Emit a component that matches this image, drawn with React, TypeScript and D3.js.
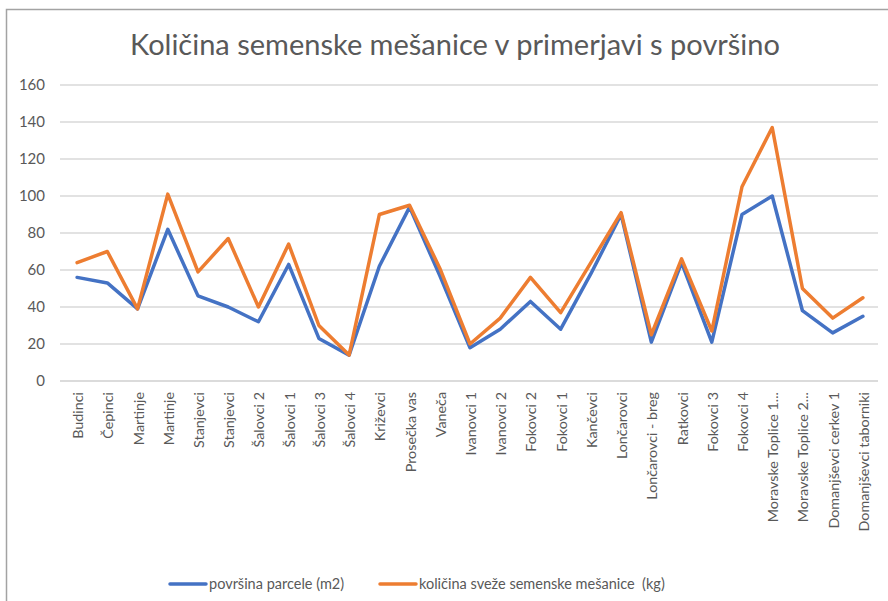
import React, { useEffect, useRef } from "react";
import * as d3 from "d3";

const categories = [
  "Budinci", "Čepinci", "Martinje", "Martinje", "Stanjevci", "Stanjevci",
  "Šalovci 2", "Šalovci 1", "Šalovci 3", "Šalovci 4", "Križevci", "Prosečka vas",
  "Vaneča", "Ivanovci 1", "Ivanovci 2", "Fokovci 2", "Fokovci 1", "Kančevci",
  "Lončarovci", "Lončarovci - breg", "Ratkovci", "Fokovci 3", "Fokovci 4",
  "Moravske Toplice 1...", "Moravske Toplice 2...", "Domanjševci cerkev 1",
  "Domanjševci taborniki",
];

// površina parcele (m2)
const povrsina = [
  56, 53, 39, 82, 46, 40, 32, 63, 23, 14, 62, 94, 57, 18, 28, 43, 28, 58,
  90, 21, 64, 21, 90, 100, 38, 26, 35,
];

// količina sveže semenske mešanice (kg)
const kolicina = [
  64, 70, 39, 101, 59, 77, 40, 74, 30, 14, 90, 95, 61, 20, 34, 56, 37, 64,
  91, 25, 66, 27, 105, 137, 50, 34, 45,
];

const yTicks = [0, 20, 40, 60, 80, 100, 120, 140, 160];

const seriesNames = ["površina parcele (m2)", "količina sveže semenske mešanice  (kg)"];
const colors = ["#4472C4", "#ED7D31"];

const W = 888;
const H = 601;

function Chart() {
  const ref = useRef<SVGSVGElement | null>(null);

  useEffect(() => {
    const svg = d3.select(ref.current);
    svg.selectAll("*").remove();

    const left = 60, right = 878, top = 85, bottom = 381;
    const font = "Lato, 'Open Sans', sans-serif";
    const textColor = "#595959";

    // chart frame
    svg.append("rect")
      .attr("x", 6.5).attr("y", 9.5)
      .attr("width", W + 20).attr("height", H + 20)
      .attr("fill", "#fff")
      .attr("stroke", "#a3a3a3")
      .attr("stroke-width", 1.5);

    svg.append("text")
      .attr("x", 455).attr("y", 55)
      .attr("text-anchor", "middle")
      .style("font-family", font)
      .style("font-size", "29px")
      .attr("fill", textColor)
      .text("Količina semenske mešanice v primerjavi s površino");

    const x = d3.scaleBand<string>()
      .domain(categories.map((_, i) => String(i)))
      .range([left + 2, right]);

    const y = d3.scaleLinear().domain([0, 160]).range([bottom, top]);

    // gridlines
    svg.append("g")
      .selectAll("line")
      .data(yTicks)
      .enter()
      .append("line")
      .attr("x1", left).attr("x2", right)
      .attr("y1", d => y(d)).attr("y2", d => y(d))
      .attr("stroke", d => d === 0 ? "#cfcfcf" : "#d9d9d9")
      .attr("stroke-width", 1.3);

    // y labels
    svg.append("g")
      .selectAll("text")
      .data(yTicks)
      .enter()
      .append("text")
      .attr("x", 45)
      .attr("y", d => y(d))
      .attr("dy", "0.35em")
      .attr("text-anchor", "end")
      .style("font-family", font)
      .style("font-size", "15px")
      .attr("fill", textColor)
      .text(d => d);

    // x labels, rotated
    svg.append("g")
      .selectAll("text")
      .data(categories)
      .enter()
      .append("text")
      .attr("transform", (d, i) => {
        const cx = (x(String(i)) as number) + x.bandwidth() / 2;
        return "translate(" + (cx + 6) + "," + 392 + ") rotate(-90)";
      })
      .attr("text-anchor", "end")
      .style("font-family", font)
      .style("font-size", "14.3px")
      .attr("fill", textColor)
      .text(d => d);

    const line = d3.line<number>()
      .x((d, i) => (x(String(i)) as number) + x.bandwidth() / 2)
      .y(d => y(d));

    [povrsina, kolicina].forEach((s, k) => {
      svg.append("path")
        .datum(s)
        .attr("d", line)
        .attr("fill", "none")
        .attr("stroke", colors[k])
        .attr("stroke-width", 3.5)
        .attr("stroke-linejoin", "round")
        .attr("stroke-linecap", "round");
    });

    // legend
    const legendX = [170, 380];
    seriesNames.forEach((name, k) => {
      const g = svg.append("g").attr("transform", "translate(" + legendX[k] + ",584)");
      g.append("line")
        .attr("x1", 0).attr("x2", 36)
        .attr("stroke", colors[k])
        .attr("stroke-width", 3.5)
        .attr("stroke-linecap", "round");
      g.append("text")
        .attr("x", 39)
        .attr("dy", "0.35em")
        .style("font-family", font)
        .style("font-size", "14.5px")
        .style("white-space", "pre")
        .attr("fill", textColor)
        .text(name);
    });
  }, []);

  return (
    <svg ref={ref} width={W} height={H}
      style={{ position: "absolute", left: 0, top: 0, display: "block" }} />
  );
}

export default function App() {
  return <Chart />;
}
